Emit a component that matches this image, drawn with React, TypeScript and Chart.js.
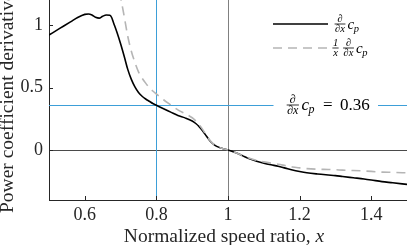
import React, { useEffect, useRef } from 'react';
import { Chart, registerables } from 'chart.js';

Chart.register(...registerables);

// ---- data ----
const xBlack = [
  0.5, 0.52, 0.54, 0.56, 0.58, 0.6, 0.61, 0.62, 0.63, 0.64, 0.65, 0.66, 0.67, 0.675, 0.68, 0.69,
  0.7, 0.71, 0.72, 0.73, 0.74, 0.75, 0.76, 0.77, 0.78, 0.79, 0.8, 0.82, 0.84, 0.86, 0.88, 0.9,
  0.91, 0.92, 0.93, 0.94, 0.95, 0.96, 0.97, 0.98, 0.99, 1.0, 1.02, 1.04, 1.06, 1.08, 1.1, 1.12,
  1.14, 1.16, 1.18, 1.2, 1.22, 1.25, 1.28, 1.3, 1.32, 1.35, 1.38, 1.4, 1.43, 1.46, 1.5,
];
const yBlack = [
  0.92, 0.955, 0.99, 1.025, 1.06, 1.085, 1.088, 1.08, 1.062, 1.055, 1.07, 1.08, 1.078, 1.06, 1.02, 0.94,
  0.85, 0.75, 0.645, 0.565, 0.505, 0.46, 0.43, 0.408, 0.39, 0.372, 0.358, 0.33, 0.303, 0.276, 0.257, 0.232,
  0.212, 0.185, 0.15, 0.11, 0.072, 0.045, 0.027, 0.016, 0.008, 0.0, -0.02, -0.045, -0.07, -0.09, -0.105, -0.118,
  -0.13, -0.145, -0.16, -0.172, -0.182, -0.192, -0.2, -0.205, -0.212, -0.222, -0.232, -0.24, -0.253, -0.262, -0.275,
];
const xDashed = [
  0.68, 0.69, 0.7, 0.71, 0.72, 0.73, 0.74, 0.75, 0.76, 0.77, 0.78, 0.79, 0.8, 0.82, 0.84, 0.86,
  0.88, 0.9, 0.91, 0.92, 0.93, 0.94, 0.95, 0.96, 0.97, 0.98, 0.99, 1.0, 1.02, 1.04, 1.06, 1.08,
  1.1, 1.12, 1.14, 1.16, 1.18, 1.2, 1.22, 1.25, 1.28, 1.3, 1.32, 1.35, 1.38, 1.4, 1.43, 1.46, 1.5,
];
const yDashed = [
  1.5, 1.36, 1.22, 1.07, 0.91, 0.79, 0.7, 0.625, 0.575, 0.535, 0.5, 0.472, 0.448, 0.402, 0.361, 0.321,
  0.292, 0.258, 0.233, 0.201, 0.161, 0.117, 0.076, 0.047, 0.028, 0.016, 0.008, 0.0, -0.02, -0.043, -0.066, -0.083,
  -0.095, -0.105, -0.114, -0.125, -0.136, -0.143, -0.149, -0.154, -0.156, -0.158, -0.161, -0.164, -0.168, -0.171, -0.177, -0.179, -0.183,
];
const xTicks = [0.6, 0.8, 1, 1.2, 1.4];
const yTicks = [0, 0.5, 1];
const X_MIN = 0.5;
const X_MAX = 1.5;
const Y_MIN = -0.4;
const Y_MAX = 1.2;
const vLineBlueX = 0.8;
const vLineGrayX = 1;
const hLineBlueY = 0.36;
const hLineGrayY = 0;
const xTitleText = 'Normalized speed ratio, ';
const xTitleVar = 'x';
const yTitleText = 'Power coefficient derivative';
const annotValue = '0.36';

// ---- styles ----
const FONT = '"Liberation Serif", "Times New Roman", serif';
const AXIS_COLOR = '#262626';
const BLUE = '#3d9fd8';
const GRAY_V = '#808080';
const GRAY_H = '#4a4a4a';
const DASH_COLOR = '#b5b5b5';
const DASH = [9, 6];

function drawFrac(ctx: CanvasRenderingContext2D, num: string, den: string, cx: number, barY: number, size: number) {
  ctx.font = `italic ${size}px ${FONT}`;
  ctx.textAlign = 'center';
  ctx.textBaseline = 'alphabetic';
  const w = Math.max(ctx.measureText(num).width, ctx.measureText(den).width) + 1;
  ctx.fillText(num, cx, barY - 1.6);
  ctx.fillText(den, cx, barY + size * 0.72);
  ctx.fillRect(cx - w / 2, barY - 0.4, w, 0.8);
}

function drawCp(ctx: CanvasRenderingContext2D, x: number, base: number, size: number, subSize: number) {
  ctx.textAlign = 'left';
  ctx.textBaseline = 'alphabetic';
  ctx.font = `italic ${size}px ${FONT}`;
  ctx.fillText('c', x, base);
  const cw = ctx.measureText('c').width;
  ctx.font = `italic ${subSize}px ${FONT}`;
  ctx.fillText('p', x + cw - 0.5, base + size * 0.2);
}

const decorPlugin = {
  id: 'decor',
  beforeDatasetsDraw(chart: any) {
    const { ctx, chartArea: a, scales } = chart;
    const xs = scales.x;
    const ys = scales.y;
    ctx.save();
    ctx.lineWidth = 1;
    const px = (v: number) => Math.round(xs.getPixelForValue(v)) + 0.5;
    const py = (v: number) => Math.round(ys.getPixelForValue(v)) + 0.5;
    ctx.strokeStyle = GRAY_H;
    ctx.beginPath();
    ctx.moveTo(a.left, py(hLineGrayY));
    ctx.lineTo(a.right, py(hLineGrayY));
    ctx.stroke();
    ctx.strokeStyle = GRAY_V;
    ctx.beginPath();
    ctx.moveTo(px(vLineGrayX), a.top);
    ctx.lineTo(px(vLineGrayX), a.bottom);
    ctx.stroke();
    ctx.strokeStyle = BLUE;
    ctx.beginPath();
    ctx.moveTo(px(vLineBlueX), a.top);
    ctx.lineTo(px(vLineBlueX), a.bottom);
    ctx.stroke();
    const yb = py(hLineBlueY);
    ctx.beginPath();
    ctx.moveTo(a.left, yb);
    ctx.lineTo(273.5, yb);
    ctx.moveTo(378, yb);
    ctx.lineTo(a.right, yb);
    ctx.stroke();
    ctx.restore();
  },
  afterDraw(chart: any) {
    const { ctx, chartArea: a, scales } = chart;
    const xs = scales.x;
    const ys = scales.y;
    ctx.save();
    ctx.strokeStyle = AXIS_COLOR;
    ctx.lineWidth = 1;
    ctx.beginPath();
    xTicks.forEach((v) => {
      const x = Math.round(xs.getPixelForValue(v)) + 0.5;
      ctx.moveTo(x, a.bottom);
      ctx.lineTo(x, a.bottom - 4);
    });
    yTicks.forEach((v) => {
      const y = Math.round(ys.getPixelForValue(v)) + 0.5;
      ctx.moveTo(a.left, y);
      ctx.lineTo(a.left + 4, y);
    });
    ctx.stroke();

    ctx.fillStyle = AXIS_COLOR;
    ctx.save();
    ctx.translate(13, 213);
    ctx.rotate(-Math.PI / 2);
    ctx.font = `19.5px ${FONT}`;
    ctx.textAlign = 'left';
    ctx.textBaseline = 'alphabetic';
    ctx.fillText(yTitleText, 0, 0);
    ctx.restore();

    ctx.font = `19.5px ${FONT}`;
    const w1 = ctx.measureText(xTitleText).width;
    ctx.font = `italic 19.5px ${FONT}`;
    const w2 = ctx.measureText(xTitleVar).width;
    const startX = 224 - (w1 + w2) / 2;
    ctx.textAlign = 'left';
    ctx.textBaseline = 'alphabetic';
    ctx.font = `19.5px ${FONT}`;
    ctx.fillText(xTitleText, startX, 241.5);
    ctx.font = `italic 19.5px ${FONT}`;
    ctx.fillText(xTitleVar, startX + w1, 241.5);

    ctx.lineWidth = 1.6;
    ctx.strokeStyle = '#000000';
    ctx.setLineDash([]);
    ctx.beginPath();
    ctx.moveTo(273, 24);
    ctx.lineTo(328, 24);
    ctx.stroke();
    ctx.strokeStyle = DASH_COLOR;
    ctx.setLineDash(DASH);
    ctx.beginPath();
    ctx.moveTo(273, 48);
    ctx.lineTo(328, 48);
    ctx.stroke();
    ctx.setLineDash([]);

    ctx.fillStyle = '#000000';
    drawFrac(ctx, '∂', '∂x', 340, 24, 10.5);
    drawCp(ctx, 347.5, 28.5, 15, 10.5);
    drawFrac(ctx, '1', 'x', 335.5, 48, 10.5);
    drawFrac(ctx, '∂', '∂x', 348.5, 48, 10.5);
    drawCp(ctx, 356, 52.5, 15, 10.5);

    drawFrac(ctx, '∂', '∂x', 292.8, 105, 12);
    drawCp(ctx, 301.5, 110, 17, 12);
    ctx.font = `17px ${FONT}`;
    ctx.textAlign = 'left';
    ctx.fillText('=', 323, 110);
    ctx.fillText(annotValue, 340, 110);
    ctx.restore();
  },
};

export default function App() {
  const ref = useRef<HTMLCanvasElement | null>(null);
  useEffect(() => {
    if (!ref.current) return;
    const chart = new Chart(ref.current, {
      type: 'line',
      data: {
        datasets: [
          {
            label: '1/x d/dx cp',
            data: xDashed.map((x, i) => ({ x, y: yDashed[i] })),
            borderColor: DASH_COLOR,
            borderWidth: 1.6,
            borderDash: DASH,
            pointRadius: 0,
            cubicInterpolationMode: 'monotone',
            fill: false,
          },
          {
            label: 'd/dx cp',
            data: xBlack.map((x, i) => ({ x, y: yBlack[i] })),
            borderColor: '#000000',
            borderWidth: 1.6,
            pointRadius: 0,
            cubicInterpolationMode: 'monotone',
            fill: false,
          },
        ],
      },
      options: {
        animation: false,
        responsive: false,
        devicePixelRatio: 1,
        events: [],
        layout: { padding: 0 },
        plugins: {
          legend: { display: false },
          tooltip: { enabled: false },
          title: { display: false },
        },
        scales: {
          x: {
            type: 'linear',
            min: X_MIN,
            max: X_MAX,
            grid: { display: false, drawTicks: false },
            border: { display: true, color: AXIS_COLOR, width: 1 },
            afterBuildTicks: (s: any) => {
              s.ticks = xTicks.map((v) => ({ value: v }));
            },
            afterFit: (s: any) => {
              s.height = 45;
              s.paddingLeft = 0;
              s.paddingRight = 0;
            },
            ticks: {
              padding: 4,
              color: AXIS_COLOR,
              font: { family: FONT, size: 18 },
              maxRotation: 0,
              autoSkip: false,
              callback: (v: any) => String(v),
            },
          },
          y: {
            type: 'linear',
            min: Y_MIN,
            max: Y_MAX,
            grid: { display: false, drawTicks: false },
            border: { display: true, color: AXIS_COLOR, width: 1 },
            afterBuildTicks: (s: any) => {
              s.ticks = yTicks.map((v) => ({ value: v }));
            },
            afterFit: (s: any) => {
              s.width = 49;
              s.paddingTop = 0;
              s.paddingBottom = 0;
            },
            ticks: {
              padding: 6,
              color: AXIS_COLOR,
              font: { family: FONT, size: 18 },
              autoSkip: false,
              callback: (v: any) => String(v),
            },
          },
        },
      },
      plugins: [decorPlugin],
    });
    return () => chart.destroy();
  }, []);
  return (
    <div style={{ position: 'fixed', left: 0, top: 0, width: 407, height: 245, background: '#ffffff' }}>
      <canvas ref={ref} width={407} height={245} style={{ display: 'block', width: 407, height: 245 }} />
    </div>
  );
}
